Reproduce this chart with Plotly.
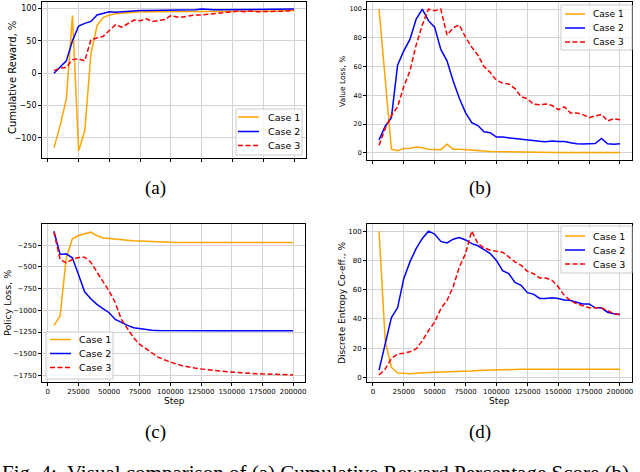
"""
Training curves for three cases: cumulative reward, value loss,
policy loss and discrete entropy co-efficient, as a 2x2 panel figure.
"""

import plotly.graph_objects as go

W, H = 640, 472

# ---- data -----------------------------------------------------------------
steps = [
    5000, 10000, 15000, 20000, 25000, 30000, 35000, 40000, 45000, 50000,
    55000, 60000, 65000, 70000, 75000, 80000, 85000, 90000, 95000, 100000,
    105000, 110000, 115000, 120000, 125000, 130000, 135000, 140000, 145000, 150000,
    155000, 160000, 165000, 170000, 175000, 180000, 185000, 190000, 195000, 200000,
]
case_names = ["Case 1", "Case 2", "Case 3"]

# (a) cumulative reward, %
reward_case1 = [
    -115, -81, -40, 89, -120, -89, 30, 74, 86, 90,
    92, 93, 94, 94, 95, 95, 95, 95, 95, 96,
    96, 96, 96, 96, 96, 96, 96, 96, 96, 96,
    96, 96, 96, 96, 96, 96, 96, 96, 97, 97,
]
reward_case2 = [
    0, 9, 19, 50, 73, 77, 80, 90, 92, 95,
    94, 95, 96, 96, 97, 97, 97, 97, 97, 98,
    98, 98, 98, 98, 99, 98, 98, 98, 98, 98,
    99, 99, 98, 98, 99, 98, 99, 99, 99, 99,
]
reward_case3 = [
    4, 8, 9, 21, 22, 19, 52, 55, 57, 66,
    75, 71, 77, 82, 81, 84, 80, 81, 83, 89,
    87, 87, 89, 90, 90, 91, 92, 93, 94, 95,
    96, 95, 96, 95, 95, 96, 96, 95, 96, 98,
]

# (b) value loss, %
value_case1 = [
    100, 51, 2.5, 1.5, 3, 3.2, 4, 3.5, 2.5, 2.3,
    2.2, 6, 2.5, 2.5, 2.3, 1.8, 1.5, 1.2, 1.0, 0.9,
    0.8, 0.7, 0.6, 0.5, 0.5, 0.4, 0.4, 0.4, 0.3, 0.3,
    0.3, 0.3, 0.3, 0.3, 0.3, 0.3, 0.3, 0.3, 0.3, 0.3,
]
value_case2 = [
    9, 18.5, 24.5, 61, 71, 79, 93, 100, 92, 87.5,
    72, 64, 50, 38, 28, 21, 19, 14.6, 14, 11,
    11, 10.5, 10, 9, 8.5, 8.5, 8, 7.7, 8.3, 7.8,
    7.8, 7, 6.3, 6.2, 6.2, 6.5, 10, 6.3, 6, 6.3,
]
value_case3 = [
    5.3, 17, 26, 32, 46, 57, 75, 89, 100, 99,
    100, 82, 87, 89, 80.5, 73.6, 68, 60, 56, 50.5,
    48.6, 48, 44.7, 39, 37.7, 33.8, 33.5, 34, 33, 30,
    32, 27.8, 27.8, 26.6, 24.5, 25.5, 26.8, 22.2, 23.8, 23,
]

# (c) policy loss, %
policy_case1 = [
    -1174, -1067, -400, -177, -139, -116, -100, -139, -166, -173,
    -177, -185, -192, -200, -204, -208, -212, -214, -216, -217,
    -218, -218, -219, -219, -219, -219, -219, -219, -219, -219,
    -219, -219, -219, -219, -219, -219, -219, -219, -219, -220,
]
policy_case2 = [
    -89, -357, -350, -396, -587, -787, -867, -932, -982, -1028,
    -1105, -1143, -1174, -1201, -1212, -1224, -1230, -1233, -1234, -1235,
    -1235, -1235, -1235, -1235, -1235, -1235, -1235, -1235, -1235, -1235,
    -1235, -1235, -1235, -1235, -1235, -1235, -1235, -1235, -1235, -1235,
]
policy_case3 = [
    -100, -415, -453, -415, -392, -388, -446, -561, -676, -779,
    -913, -1105, -1212, -1316, -1393, -1443, -1489, -1540, -1570, -1597,
    -1620, -1640, -1655, -1665, -1675, -1685, -1693, -1700, -1706, -1712,
    -1717, -1722, -1726, -1730, -1733, -1736, -1738, -1740, -1742, -1744,
]

# (d) discrete entropy co-eff., %
entropy_case1 = [
    100, 25, 7, 3, 2.8, 2.5, 2.8, 3.3, 3.4, 3.5,
    3.6, 3.7, 3.8, 4.0, 4.2, 4.4, 4.7, 4.9, 5.1, 5.3,
    5.5, 5.6, 5.6, 5.6, 5.6, 5.6, 5.6, 5.6, 5.6, 5.6,
    5.6, 5.6, 5.6, 5.6, 5.6, 5.6, 5.6, 5.6, 5.6, 5.6,
]
entropy_case2 = [
    5, 23, 41, 47.6, 67.5, 79, 88, 95, 100, 98,
    93, 92, 94.5, 95.6, 94, 91.5, 90, 87.4, 84.7, 80,
    73, 71, 65, 63, 58, 57, 54, 54, 54.5, 54,
    53, 52.6, 51.5, 50.3, 50.3, 47.6, 47.6, 44.6, 43.5, 43,
]
entropy_case3 = [
    1.8, 5.7, 13, 16, 16.5, 17.6, 19.5, 25, 32, 37.8,
    47, 52.6, 62, 75.5, 84.7, 100, 91.5, 88.6, 87, 86.3,
    85.6, 82.4, 79, 76.7, 72.5, 71, 68, 68, 66.4, 62,
    56, 52.6, 50.3, 49, 47.6, 47.6, 47.6, 45.8, 43.5, 43,
]

x_ticks = [0, 25000, 50000, 75000, 100000, 125000, 150000, 175000, 200000]

# ---- styling --------------------------------------------------------------
FONT = "DejaVu Sans"
SERIF = "Liberation Serif"
LINES = [
    dict(color="#FFA500", width=1.5),
    dict(color="#0000FF", width=1.5),
    dict(color="#FF0000", width=1.5, dash="5px,2.5px"),
]
GRID = "#d3d3d3"


def px(x):
    return x / W


def py(y):
    return 1 - y / H


# panel boxes in pixels: left, top, right, bottom
panels = {
    "a": dict(box=(42, 2, 306, 158), yrange=[-131, 110], dtick=50, tick_size=8),
    "b": dict(box=(367, 2, 632, 160), yrange=[-5, 105], dtick=20, tick_size=6.5),
    "c": dict(box=(42, 224, 305, 382), yrange=[-1826, -6], dtick=250, tick_size=7),
    "d": dict(box=(367, 224, 632, 382), yrange=[-3.1, 104.9], dtick=20, tick_size=7),
}
series = {
    "a": [reward_case1, reward_case2, reward_case3],
    "b": [value_case1, value_case2, value_case3],
    "c": [policy_case1, policy_case2, policy_case3],
    "d": [entropy_case1, entropy_case2, entropy_case3],
}
# matplotlib-style legend boxes, in pixels:
# frame (left, top, right, bottom), row centres, sample line x0/x1, text x, font size
legend_boxes = {
    "a": dict(frame=(236, 109, 302, 155), rows=(117, 131.5, 145.5), line=(238, 259), text=266, size=9.5),
    "b": dict(frame=(561, 5, 632, 50), rows=(14, 28, 42), line=(565, 585), text=591, size=9),
    "c": dict(frame=(46, 332, 113, 379), rows=(339.5, 353.5, 367.5), line=(50, 71), text=77, size=9.5),
    "d": dict(frame=(561, 226, 632, 273), rows=(236, 250, 264), line=(565, 585), text=591, size=9.5),
}

fig = go.Figure()
layout = {}
shapes = []
annotations = []

for i, key in enumerate(["a", "b", "c", "d"], start=1):
    suffix = "" if i == 1 else str(i)
    for name, vals, line in zip(case_names, series[key], LINES):
        fig.add_trace(go.Scatter(
            x=steps, y=vals, mode="lines", name=name, line=line,
            xaxis="x" + suffix, yaxis="y" + suffix, showlegend=False,
        ))

    left, top, right, bottom = panels[key]["box"]
    bottom_row = key in ("c", "d")
    axis_common = dict(
        showline=True, mirror=True, linecolor="black", linewidth=0.8,
        ticks="outside", ticklen=3, tickwidth=0.8, tickcolor="black",
        showgrid=True, gridcolor=GRID, gridwidth=1, zeroline=False,
    )
    layout["xaxis" + suffix] = dict(
        axis_common,
        domain=[px(left), px(right)],
        anchor="y" + suffix,
        range=[-4750, 209750],
        tickvals=x_ticks,
        tickformat="d",
        showticklabels=bottom_row,
        tickfont=dict(family=FONT, size=7, color="black"),
    )
    layout["yaxis" + suffix] = dict(
        axis_common,
        domain=[py(bottom), py(top)],
        anchor="x" + suffix,
        range=panels[key]["yrange"],
        tick0=0,
        dtick=panels[key]["dtick"],
        tickfont=dict(family=FONT, size=panels[key]["tick_size"], color="black"),
    )

    # legend drawn by hand so it keeps matplotlib's compact rows
    lb = legend_boxes[key]
    fl, ft, fr, fb = lb["frame"]
    shapes.append(dict(
        type="rect", xref="paper", yref="paper",
        x0=px(fl), x1=px(fr), y0=py(fb), y1=py(ft),
        fillcolor="rgba(255,255,255,0.8)", line=dict(color="#cccccc", width=1),
    ))
    for name, row_y, line in zip(case_names, lb["rows"], LINES):
        shapes.append(dict(
            type="line", xref="paper", yref="paper",
            x0=px(lb["line"][0]), x1=px(lb["line"][1]), y0=py(row_y), y1=py(row_y),
            line=line,
        ))
        annotations.append(dict(
            text=name, x=px(lb["text"]), y=py(row_y), xref="paper", yref="paper",
            showarrow=False, xanchor="left", yanchor="middle",
            font=dict(family=FONT, size=lb["size"], color="black"),
        ))

# y-axis titles
y_titles = [
    ("Cumulative Reward, %", 12, 78, 10),
    ("Value Loss, %", 343, 82, 7.5),
    ("Policy Loss, %", 7, 303, 9.5),
    ("Discrete Entropy Co-eff., %", 342, 303, 9),
]
for text, x, y, size in y_titles:
    annotations.append(dict(
        text=text, x=px(x), y=py(y), xref="paper", yref="paper",
        showarrow=False, textangle=-90, xanchor="center", yanchor="middle",
        font=dict(family=FONT, size=size, color="black"),
    ))

# x-axis titles under the bottom panels
for x in (174, 499):
    annotations.append(dict(
        text="Step", x=px(x), y=py(401), xref="paper", yref="paper",
        showarrow=False, xanchor="center", yanchor="middle",
        font=dict(family=FONT, size=9, color="black"),
    ))

# sub-figure labels
for text, x, y in [("(a)", 155, 188), ("(b)", 480, 188), ("(c)", 155, 432), ("(d)", 480, 432)]:
    annotations.append(dict(
        text=text, x=px(x), y=py(y), xref="paper", yref="paper",
        showarrow=False, xanchor="center", yanchor="middle",
        font=dict(family=SERIF, size=19, color="black"),
    ))

# caption, cut by the bottom edge of the image as in the source page
annotations.append(dict(
    text="Fig. 4:  Visual comparison of (a) Cumulative Reward Percentage Score (b)",
    x=0, y=py(459), xref="paper", yref="paper",
    showarrow=False, xanchor="left", yanchor="top",
    font=dict(family=SERIF, size=21, color="black"),
))

fig.update_layout(
    width=W, height=H,
    margin=dict(l=0, r=0, t=0, b=0),
    paper_bgcolor="white", plot_bgcolor="white",
    shapes=shapes,
    annotations=annotations,
    **layout,
)

# the page body has a default 8px margin; drop it so the figure fills the window
fig.write_html(
    "out.html",
    config={"displayModeBar": False},
    post_script="document.body.style.margin = '0';",
)
